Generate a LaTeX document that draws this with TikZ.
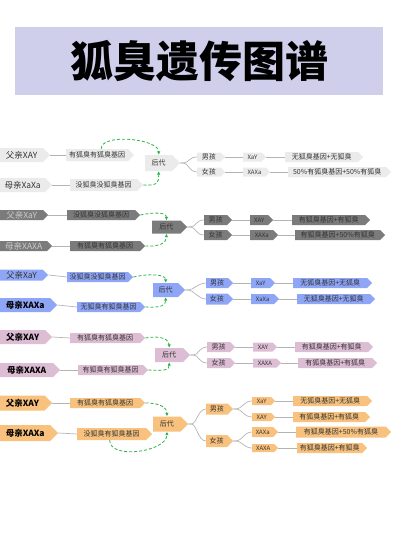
\documentclass[tikz,border=0pt]{standalone}
\usepackage{fontspec}
\setmainfont{Noto Sans CJK SC}
\usetikzlibrary{shapes.symbols,arrows.meta,calc}
\definecolor{titlebg}{HTML}{CFCFEC}
\definecolor{lineg}{HTML}{B4B4B4}
\definecolor{gr}{HTML}{2DB34A}
\definecolor{sA}{HTML}{EBEBEB}
\definecolor{sB}{HTML}{7B7B7B}
\definecolor{sC}{HTML}{8FA6F7}
\definecolor{sD}{HTML}{DCBDD3}
\definecolor{sE}{HTML}{F8C27E}
\tikzset{
  sig/.style={shape=signal, signal to=east, signal pointer angle=90, inner sep=0pt, draw=none, text=black!80},
  big/.style={font=\fontsize{8.5}{9}\selectfont},
  bigb/.style={font=\bfseries\fontsize{8.5}{9}\selectfont, text=black},
  mid/.style={font=\fontsize{7}{8}\selectfont},
  sml/.style={font=\fontsize{6}{7}\selectfont},
  ln/.style={draw=lineg, line width=0.7pt},
  gd/.style={draw=gr, line width=0.8pt, dash pattern=on 3pt off 2pt, -{Latex[length=3.5pt,width=3.5pt]}},
}
\newcommand\bx[7]{\node[sig,#6,minimum width=#4pt,minimum height=#5pt,anchor=west] (#1) at (#2,#3) {#7};}
\begin{document}
\begin{tikzpicture}[x=1pt,y=-1pt]
\useasboundingbox (0,0) rectangle (400,533);
\node[fill=titlebg, minimum width=368pt, minimum height=68pt, inner sep=0pt, font=\bfseries\fontsize{43}{43}\selectfont, text=black] (title) at (199,61) {狐臭遗传图谱};

% ---------- Section 1 ----------
\begin{scope}[every node/.append style={fill=sA, text=black!65}]
\bx{f1}{0}{155}{50}{14}{big}{父亲XAY}
\bx{g1a}{66}{155}{68}{12}{mid}{有狐臭有狐臭基因}
\bx{m1}{0}{185}{52}{14}{big}{母亲XaXa}
\bx{g1b}{70}{185}{73}{12}{mid}{没狐臭没狐臭基因}
\bx{h1}{145}{163}{35}{16}{mid}{后代}
\bx{b1}{197}{157}{28}{9}{mid}{男孩}
\bx{d1}{197}{172}{28}{9}{mid}{女孩}
\bx{b1g}{243}{157}{23}{9}{sml}{XaY}
\bx{d1g}{243}{172}{27}{9}{sml}{XAXa}
\bx{b1r}{285}{157}{78}{10}{mid}{无狐臭基因+无狐臭}
\bx{d1r}{288}{172}{103}{10}{mid}{50\%有狐臭基因+50\%有狐臭}
\end{scope}
\draw[ln] (f1.east) -- (g1a.west);
\draw[ln] (m1.east) -- (g1b.west);
\draw[ln] (h1.east) -- ++(3,0) .. controls +(5,0) and +(-8,0) .. (b1.west);
\draw[ln] (h1.east) -- ++(3,0) .. controls +(5,0) and +(-8,0) .. (d1.west);
\draw[ln] (b1.east) -- (b1g.west);
\draw[ln] (d1.east) -- (d1g.west);
\draw[ln] (b1g.east) -- (b1r.west);
\draw[ln] (d1g.east) -- (d1r.west);
\draw[gd] ($(g1a.north)+(4,0)$) .. controls +(0,-16) and +(0,-16) .. (h1.north);
\draw[gd] (g1b.east) .. controls +(16,1) and +(0,10) .. (h1.south);

% ---------- Section 2 ----------
\begin{scope}[every node/.append style={fill=sB, text=black!85}]
\bx{f2}{0}{215}{48}{10}{big,text=black!20}{父亲XaY}
\bx{g2a}{67}{215}{73}{10}{mid}{没狐臭没狐臭基因}
\bx{m2}{0}{246}{52}{10}{big,text=black!20}{母亲XAXA}
\bx{g2b}{70}{246}{75}{10}{mid}{有狐臭有狐臭基因}
\bx{h2}{152}{227}{35}{13}{mid}{后代}
\bx{b2}{204}{220}{28}{10}{mid}{男孩}
\bx{d2}{204}{235}{28}{10}{mid}{女孩}
\bx{b2g}{250}{220}{23}{10}{sml}{XAY}
\bx{d2g}{250}{235}{28}{10}{sml}{XAXa}
\bx{b2r}{292}{220}{78}{10}{mid}{有狐臭基因+有狐臭}
\bx{d2r}{295}{235}{90}{10}{mid}{有狐臭基因+50\%有狐臭}
\end{scope}
\draw[ln] (f2.east) -- (g2a.west);
\draw[ln] (m2.east) -- (g2b.west);
\draw[ln] (h2.east) -- ++(3,0) .. controls +(5,0) and +(-8,0) .. (b2.west);
\draw[ln] (h2.east) -- ++(3,0) .. controls +(5,0) and +(-8,0) .. (d2.west);
\draw[ln] (b2.east) -- (b2g.west);
\draw[ln] (d2.east) -- (d2g.west);
\draw[ln] (b2g.east) -- (b2r.west);
\draw[ln] (d2g.east) -- (d2r.west);
\draw[gd] (g2a.east) .. controls +(14,-3) and +(0,-8) .. (h2.north);
\draw[gd] (g2b.east) .. controls +(16,1) and +(0,8) .. (h2.south);

% ---------- Section 3 ----------
\begin{scope}[every node/.append style={fill=sC, text=black!80}]
\bx{f3}{0}{275}{48}{11}{big}{父亲XaY}
\bx{g3a}{67}{277}{66}{10}{mid}{没狐臭没狐臭基因}
\bx{m3}{0}{305}{57}{14}{bigb}{母亲XAXa}
\bx{g3b}{77}{307}{68}{10}{mid}{无狐臭有狐臭基因}
\bx{h3}{153}{290}{32}{14}{mid}{后代}
\bx{b3}{206}{283}{27}{10}{mid}{男孩}
\bx{d3}{206}{299}{27}{11}{mid}{女孩}
\bx{b3g}{251}{283}{24}{10}{sml}{XaY}
\bx{d3g}{251}{299}{28}{10}{sml}{XaXa}
\bx{b3r}{293}{283}{79}{10}{mid}{无狐臭基因+无狐臭}
\bx{d3r}{297}{299}{78}{10}{mid}{无狐臭基因+无狐臭}
\end{scope}
\draw[ln] (f3.east) -- (g3a.west);
\draw[ln] (m3.east) -- (g3b.west);
\draw[ln] (h3.east) -- ++(3,0) .. controls +(5,0) and +(-8,0) .. (b3.west);
\draw[ln] (h3.east) -- ++(3,0) .. controls +(5,0) and +(-8,0) .. (d3.west);
\draw[ln] (b3.east) -- (b3g.west);
\draw[ln] (d3.east) -- (d3g.west);
\draw[ln] (b3g.east) -- (b3r.west);
\draw[ln] (d3g.east) -- (d3r.west);
\draw[gd] (g3a.east) .. controls +(18,-4) and +(0,-8) .. (h3.north);
\draw[gd] (g3b.east) .. controls +(16,1) and +(0,8) .. (h3.south);

% ---------- Section 4 ----------
\begin{scope}[every node/.append style={fill=sD, text=black!80}]
\bx{f4}{0}{337}{52}{14}{bigb}{父亲XAY}
\bx{g4a}{70}{338}{75}{10}{mid}{有狐臭有狐臭基因}
\bx{m4}{0}{370}{60}{14}{bigb}{母亲XAXA}
\bx{g4b}{78}{370}{70}{10}{mid}{有狐臭有狐臭基因}
\bx{h4}{155}{355}{35}{14}{mid}{后代}
\bx{b4}{207}{347}{28}{10}{mid}{男孩}
\bx{d4}{207}{363}{28}{10}{mid}{女孩}
\bx{b4g}{253}{347}{24}{9}{sml}{XAY}
\bx{d4g}{253}{363}{28}{9}{sml}{XAXA}
\bx{b4r}{295}{347}{78}{10}{mid}{有狐臭基因+有狐臭}
\bx{d4r}{298}{363}{79}{10}{mid}{有狐臭基因+有狐臭}
\end{scope}
\draw[ln] (f4.east) -- (g4a.west);
\draw[ln] (m4.east) -- (g4b.west);
\draw[ln] (h4.east) -- ++(3,0) .. controls +(5,0) and +(-8,0) .. (b4.west);
\draw[ln] (h4.east) -- ++(3,0) .. controls +(5,0) and +(-8,0) .. (d4.west);
\draw[ln] (b4.east) -- (b4g.west);
\draw[ln] (d4.east) -- (d4g.west);
\draw[ln] (b4g.east) -- (b4r.west);
\draw[ln] (d4g.east) -- (d4r.west);
\draw[gd] (g4a.east) .. controls +(16,-3) and +(0,-8) .. (h4.north);
\draw[gd] (g4b.east) .. controls +(16,1) and +(0,8) .. (h4.south);

% ---------- Section 5 ----------
\begin{scope}[every node/.append style={fill=sE, text=black!80}]
\bx{f5}{0}{403}{52}{15}{bigb}{父亲XAY}
\bx{g5a}{70}{403}{75}{10}{mid}{有狐臭有狐臭基因}
\bx{m5}{0}{433}{58}{16}{bigb}{母亲XAXa}
\bx{g5b}{77}{434}{75}{12}{mid}{没狐臭有狐臭基因}
\bx{h5}{153}{424}{35}{15}{mid}{后代}
\bx{b5}{206}{409}{27}{11}{mid}{男孩}
\bx{d5}{206}{441}{27}{12}{mid}{女孩}
\bx{b5g}{252}{401}{23}{8}{sml}{XaY}
\bx{b5h}{252}{417}{23}{8}{sml}{XAY}
\bx{d5g}{252}{432}{26}{10}{sml}{XAXa}
\bx{d5h}{252}{448}{26}{8}{sml}{XAXA}
\bx{b5r}{293}{401}{79}{10}{mid}{无狐臭基因+无狐臭}
\bx{b5s}{293}{417}{77}{10}{mid}{有狐臭基因+有狐臭}
\bx{d5r}{296}{432}{95}{11}{mid}{有狐臭基因+50\%有狐臭}
\bx{d5s}{297}{448}{70}{10}{mid}{有狐臭基因+有狐臭}
\end{scope}
\draw[ln] (f5.east) -- (g5a.west);
\draw[ln] (m5.east) -- (g5b.west);
\draw[ln] (h5.east) -- ++(3,0) .. controls +(5,0) and +(-8,0) .. (b5.west);
\draw[ln] (h5.east) -- ++(3,0) .. controls +(5,0) and +(-8,0) .. (d5.west);
\draw[ln] (b5.east) -- ++(3,0) .. controls +(5,0) and +(-8,0) .. (b5g.west);
\draw[ln] (b5.east) -- ++(3,0) .. controls +(5,0) and +(-8,0) .. (b5h.west);
\draw[ln] (d5.east) -- ++(3,0) .. controls +(5,0) and +(-8,0) .. (d5g.west);
\draw[ln] (d5.east) -- ++(3,0) .. controls +(5,0) and +(-8,0) .. (d5h.west);
\draw[ln] (b5g.east) -- (b5r.west);
\draw[ln] (b5h.east) -- (b5s.west);
\draw[ln] (d5g.east) -- (d5r.west);
\draw[ln] (d5h.east) -- (d5s.west);
\draw[gd] (g5a.east) .. controls +(16,0) and +(0,-8) .. (h5.north);
\draw[gd] ($(g5b.south)+(-2,0)$) .. controls +(0,20) and +(0,20) .. (h5.south);
\end{tikzpicture}
\end{document}
